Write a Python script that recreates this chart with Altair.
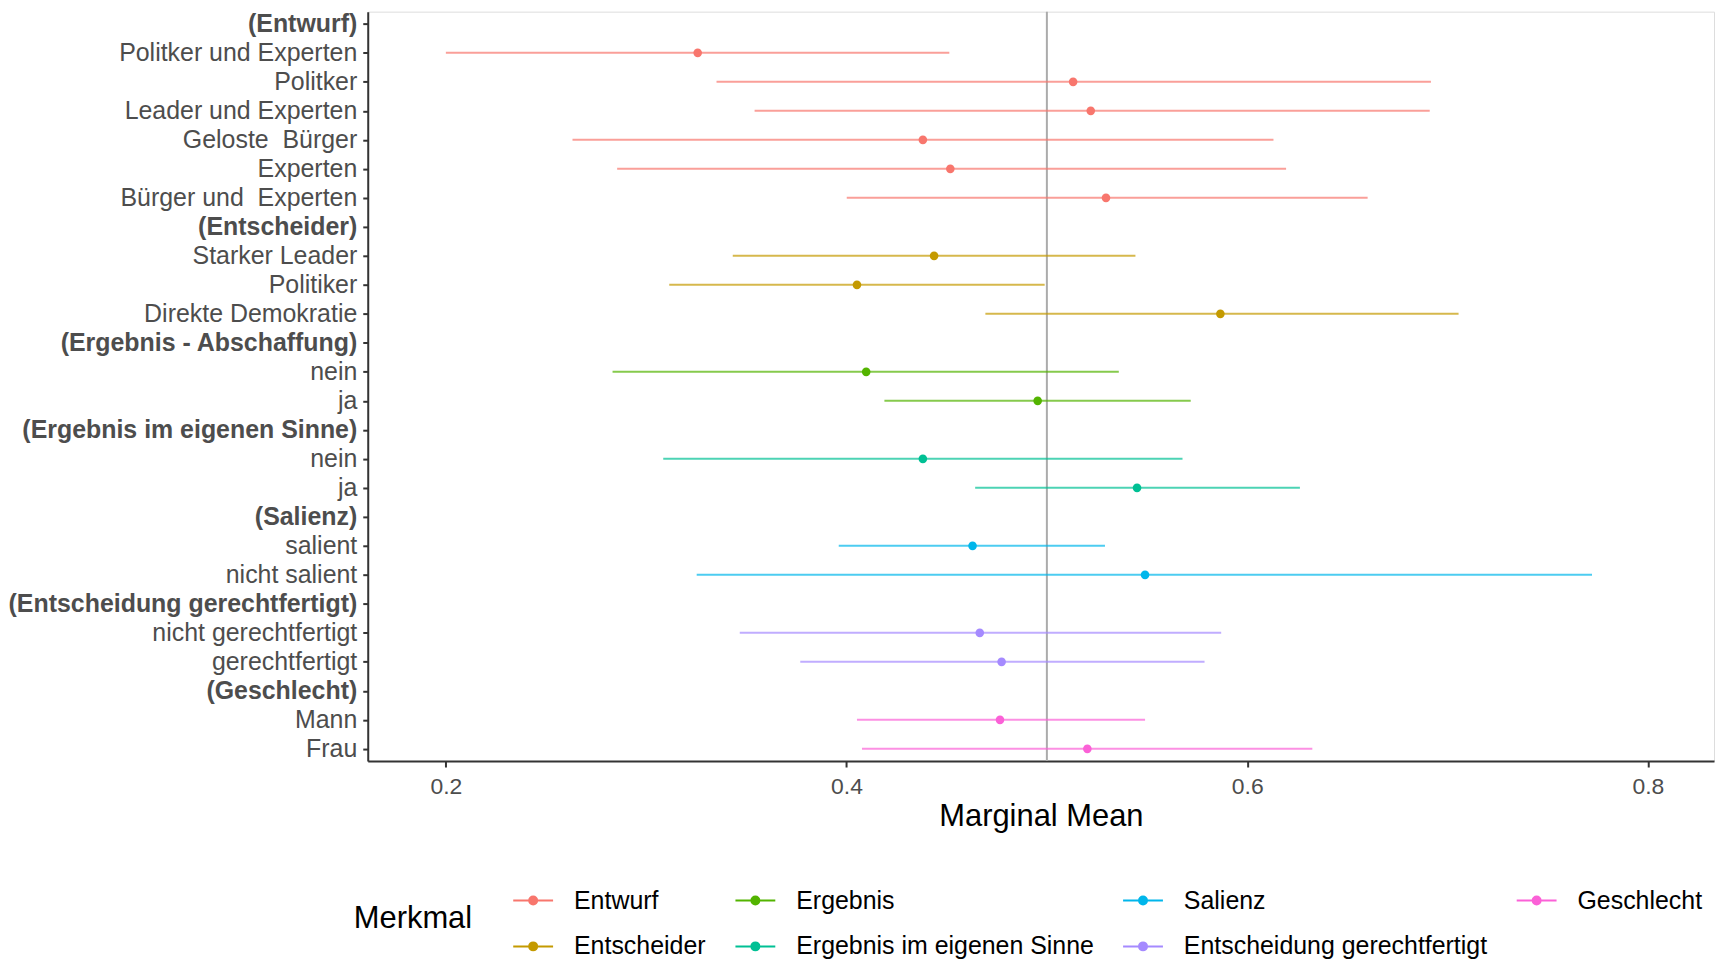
import json
import altair as alt
import pandas as pd

# ---- data ----
row_labels = [
    "(Entwurf)", "Politker und Experten", "Politker", "Leader und Experten",
    "Geloste \u00a0Bürger", "Experten", "Bürger und \u00a0Experten",
    "(Entscheider)", "Starker Leader", "Politiker", "Direkte Demokratie",
    "(Ergebnis - Abschaffung)", "nein", "ja",
    "(Ergebnis im eigenen Sinne)", "nein", "ja",
    "(Salienz)", "salient", "nicht salient",
    "(Entscheidung gerechtfertigt)", "nicht gerechtfertigt", "gerechtfertigt",
    "(Geschlecht)", "Mann", "Frau",
]
header_rows = [0, 7, 11, 14, 17, 20, 23]

est_rows = [1, 2, 3, 4, 5, 6, 8, 9, 10, 12, 13, 15, 16, 18, 19, 21, 22, 24, 25]
merkmal = (["Entwurf"] * 6 + ["Entscheider"] * 3 + ["Ergebnis"] * 2
           + ["Ergebnis im eigenen Sinne"] * 2 + ["Salienz"] * 2
           + ["Entscheidung gerechtfertigt"] * 2 + ["Geschlecht"] * 2)
estimate = [0.3257, 0.5131, 0.5219, 0.4381, 0.4518, 0.5295,
            0.4437, 0.4052, 0.5866,
            0.4098, 0.4954,
            0.4381, 0.5450,
            0.4629, 0.5490,
            0.4665, 0.4774,
            0.4766, 0.5202]
lower = [0.2000, 0.3351, 0.3541, 0.2632, 0.2855, 0.4001,
         0.3432, 0.3115, 0.4693,
         0.2832, 0.4189,
         0.3085, 0.4642,
         0.3961, 0.3252,
         0.3467, 0.3769,
         0.4052, 0.4077]
upper = [0.4513, 0.6917, 0.6911, 0.6131, 0.6194, 0.6601,
         0.5442, 0.4989, 0.7055,
         0.5359, 0.5718,
         0.5677, 0.6263,
         0.5290, 0.7721,
         0.5870, 0.5787,
         0.5490, 0.6325]

legend_order = ["Entwurf", "Ergebnis", "Salienz", "Geschlecht",
                "Entscheider", "Ergebnis im eigenen Sinne", "Entscheidung gerechtfertigt"]
legend_colors = ["#F8766D", "#53B400", "#00B6EB", "#FB61D7",
                 "#C49A00", "#00C094", "#A58AFF"]

x_ticks = [0.2, 0.4, 0.6, 0.8]
ref_value = [0.5]

df = pd.DataFrame({"row": est_rows, "Merkmal": merkmal, "estimate": estimate,
                   "lower": lower, "upper": upper})
ref_df = pd.DataFrame({"ref": ref_value})

FONT = "Liberation Sans"

x_scale = alt.Scale(domain=[0.161, 0.833], nice=False, zero=False)
y_scale = alt.Scale(type="point", domain=list(range(len(row_labels))), padding=0.42)

label_expr = json.dumps(row_labels, ensure_ascii=False) + "[datum.value]"
bold_test = "indexof(" + json.dumps(header_rows) + ", datum.value) >= 0"

y_axis = alt.Axis(
    labelExpr=label_expr,
    labelFontWeight={"condition": {"test": bold_test, "value": "bold"}, "value": "normal"},
    labelFontSize=25, labelColor="#4D4D4D", labelFont=FONT, labelLimit=500,
    labelOverlap=False, labelPadding=6,
    tickSize=5, tickWidth=2, tickColor="#333333",
    domainColor="#333333", domainWidth=2, grid=False, title=None,
)
x_axis = alt.Axis(
    values=x_ticks, format=".1f", grid=False,
    labelFontSize=23, labelColor="#4D4D4D", labelFont=FONT, labelPadding=9,
    tickSize=6, tickWidth=2, tickColor="#333333",
    domainColor="#333333", domainWidth=2,
    title="Marginal Mean", titleFontSize=31, titleFontWeight="normal",
    titleColor="black", titleFont=FONT, titlePadding=3,
)

color_scale = alt.Scale(domain=legend_order, range=legend_colors)

sym_path = "M-1,0L1,0M-0.2,0A0.2,0.2,0,1,1,0.2,0A0.2,0.2,0,1,1,-0.2,0Z"

legend = alt.Legend(
    orient="none", legendX=-14, legendY=871,
    direction="horizontal", columns=4,
    title="Merkmal", titleOrient="left", titleAnchor="middle", titleBaseline="middle",
    titleFontSize=31, titleFontWeight="normal", titleColor="black", titleFont=FONT,
    titlePadding=40,
    labelFontSize=25, labelColor="black", labelFont=FONT, labelOffset=20,
    labelLimit=600,
    symbolType=sym_path, symbolSize=1600, symbolStrokeWidth=2, symbolOpacity=1,
    columnPadding=25, rowPadding=12,
)

ref_rule = alt.Chart(ref_df).mark_rule(color="#ABABAB", strokeWidth=2).encode(
    x=alt.X("ref:Q", scale=x_scale, axis=x_axis)
)

bars = alt.Chart(df).mark_rule(strokeWidth=2, opacity=0.7).encode(
    x=alt.X("lower:Q", scale=x_scale, axis=x_axis),
    x2="upper:Q",
    y=alt.Y("row:O", scale=y_scale, axis=y_axis),
    color=alt.Color("Merkmal:N", scale=color_scale, legend=legend),
)

points = alt.Chart(df).mark_circle(size=75, opacity=1).encode(
    x=alt.X("estimate:Q", scale=x_scale, axis=x_axis),
    y=alt.Y("row:O", scale=y_scale, axis=y_axis),
    color=alt.Color("Merkmal:N", scale=color_scale, legend=legend),
)

chart = alt.layer(ref_rule, bars, points).properties(
    width=1351, height=752,
    autosize=alt.AutoSizeParams(type="none"),
    padding={"left": 361, "top": 2, "right": 2, "bottom": 200},
).configure_view(
    stroke="#333333", strokeWidth=2
).configure(font=FONT, background="white")

chart.save("out.html", embed_options={"renderer": "svg", "actions": False})
